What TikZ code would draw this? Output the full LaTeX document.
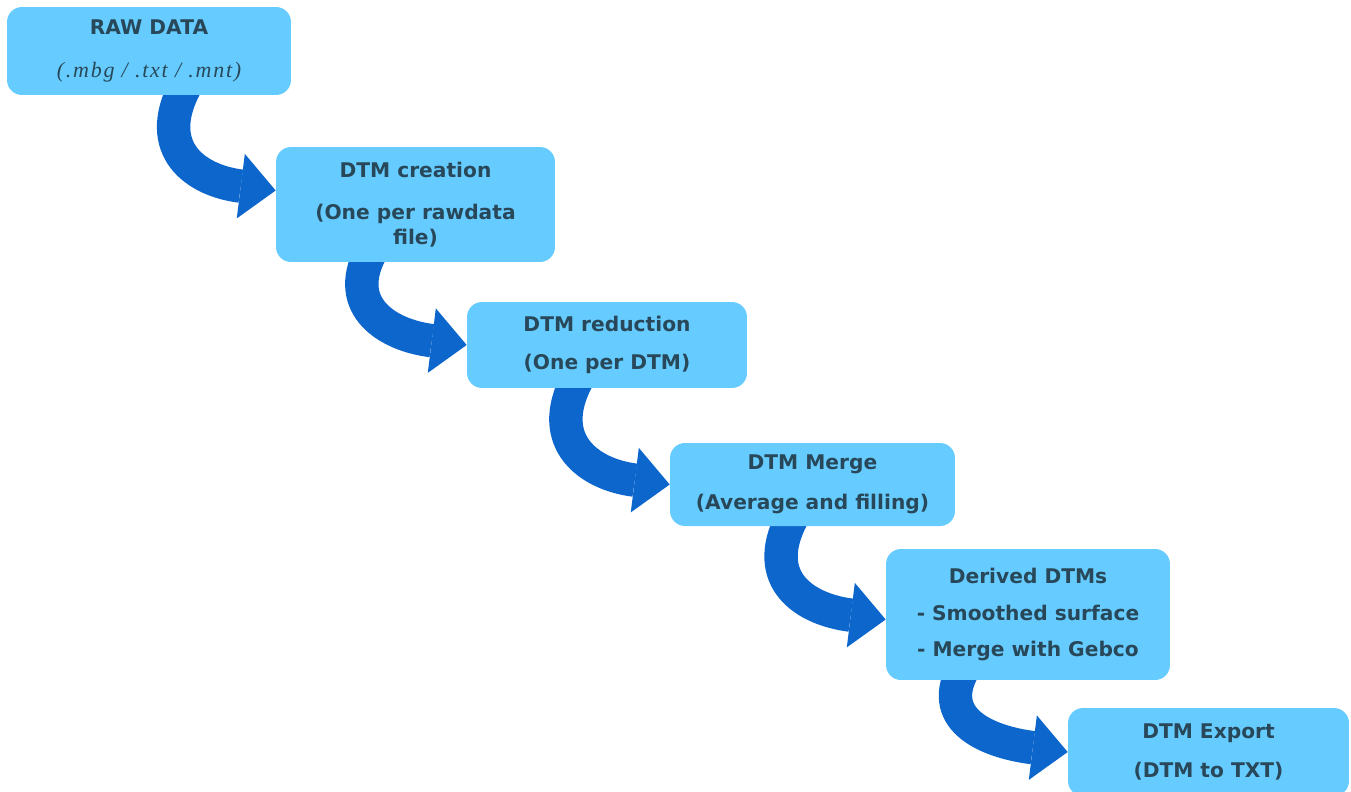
\documentclass[tikz,border=0pt]{standalone}
\usepackage{fontspec}
\setmainfont{DejaVu Sans}
\newfontfamily\extfont[LetterSpace=8]{Liberation Serif}
\usetikzlibrary{arrows.meta,calc,backgrounds}
\definecolor{boxblue}{RGB}{102,204,255}
\definecolor{boxtext}{RGB}{40,72,90}
\definecolor{flowblue}{RGB}{12,102,204}
\tikzset{
  stage/.style={fill=boxblue, rounded corners=0.3cm, text=boxtext, align=center, inner sep=0pt,
    font=\fontsize{11.5}{14}\selectfont\bfseries},
  flow/.style={draw=flowblue, line width=19pt, -{Triangle[width=37pt,length=20pt,line width=0pt]}},
}

\begin{document}
\begin{tikzpicture}[x=0.02cm, y=-0.02cm]
		%%%%% START %%%%%
		
		\clip (0,0) rectangle (1351,791);
		
		\node[stage, minimum width=5.68cm, minimum height=1.76cm] (raw) at (149,51)
			{RAW DATA\\[11pt]{\extfont\itshape\mdseries\fontsize{12.5}{14}\selectfont (.mbg / .txt / .mnt)}};
		\node[stage, minimum width=5.58cm, minimum height=2.3cm] (cre) at (415.5,204.5)
			{DTM creation\\[10pt](One per rawdata\\file)};
		\node[stage, minimum width=5.6cm, minimum height=1.72cm] (red) at (607,345)
			{DTM reduction\\[8pt](One per DTM)};
		\node[stage, minimum width=5.7cm, minimum height=1.66cm] (mrg) at (812.5,484.5)
			{DTM Merge\\[9pt](Average and filling)};
		\node[stage, minimum width=5.68cm, minimum height=2.62cm] (der) at (1028,614.5)
			{Derived DTMs\\[7pt]- Smoothed surface\\[7pt]- Merge with Gebco};
		\node[stage, minimum width=5.62cm, minimum height=1.76cm] (exp) at (1208.5,752)
			{DTM Export\\[8pt](DTM to TXT)};
		
		% flow arrows behind the boxes
		\begin{scope}[on background layer]
		\draw[flow] ($(raw.south west)+(178,-8)$) .. controls +(-32,62) and +(-80,-10) .. ($(cre.west)+(0,-14)$);
		\draw[flow] ($(cre.south west)+(94,-8)$) .. controls +(-26,52) and +(-80,-10) .. (red.west);
		\draw[flow] ($(red.south west)+(110,-8)$) .. controls +(-32,62) and +(-80,-10) .. (mrg.west);
		\draw[flow] ($(mrg.south west)+(122,-8)$) .. controls +(-32,62) and +(-80,-10) .. ($(der.west)+(0,5)$);
		\draw[flow] ($(der.south west)+(76,-8)$) .. controls +(-24,48) and +(-80,-10) .. (exp.west);
		\end{scope}
		
		%%%%% END %%%%%
	\end{tikzpicture}
\end{document}
